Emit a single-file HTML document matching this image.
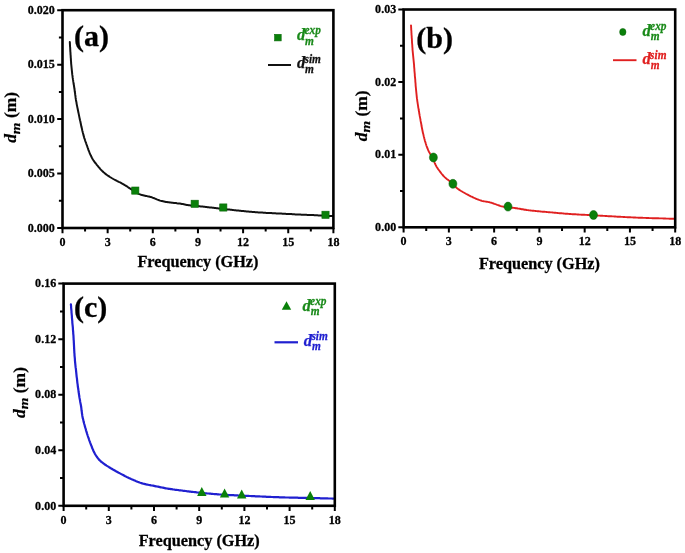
<!DOCTYPE html>
<html><head><meta charset="utf-8"><style>
html,body{margin:0;padding:0;background:#fff;}
svg{display:block;filter:blur(0.35px);font-family:"Liberation Serif","Times New Roman",serif;}
</style></head><body>
<svg width="685" height="553" viewBox="0 0 685 553">
<rect width="685" height="553" fill="#fff"/>
<path d="M69.8,42.0 L69.9,43.0 L69.9,44.0 L70.0,45.0 L70.0,46.0 L70.1,47.0 L70.2,48.0 L70.2,49.0 L70.3,50.0 L70.3,51.0 L70.4,52.0 L70.5,53.0 L70.5,54.0 L70.6,55.0 L70.7,56.0 L70.7,57.0 L70.8,58.0 L70.9,59.0 L70.9,60.0 L71.0,61.0 L71.1,62.0 L71.1,63.0 L71.2,64.0 L71.3,65.0 L71.4,66.0 L71.5,67.0 L71.6,68.0 L71.7,69.0 L71.8,70.0 L71.9,70.9 L72.0,71.9 L72.1,72.9 L72.2,73.9 L72.3,74.9 L72.5,75.9 L72.6,76.9 L72.7,77.9 L72.9,78.9 L73.0,79.9 L73.2,80.9 L73.3,81.9 L73.5,82.8 L73.6,83.8 L73.8,84.8 L74.0,85.8 L74.1,86.8 L74.3,87.8 L74.4,88.8 L74.6,89.8 L74.7,90.8 L74.8,91.8 L75.0,92.7 L75.1,93.7 L75.2,94.7 L75.4,95.7 L75.5,96.7 L75.6,97.7 L75.8,98.7 L75.9,99.7 L76.1,100.7 L76.3,101.7 L76.5,102.6 L76.6,103.6 L76.8,104.6 L77.0,105.6 L77.2,106.6 L77.4,107.6 L77.6,108.5 L77.8,109.5 L78.0,110.5 L78.2,111.5 L78.4,112.5 L78.6,113.4 L78.8,114.4 L79.0,115.4 L79.2,116.4 L79.4,117.4 L79.6,118.3 L79.8,119.3 L80.0,120.3 L80.3,121.3 L80.5,122.3 L80.7,123.2 L80.9,124.2 L81.1,125.2 L81.3,126.2 L81.5,127.1 L81.8,128.1 L82.0,129.1 L82.2,130.1 L82.4,131.0 L82.7,132.0 L82.9,133.0 L83.2,134.0 L83.4,134.9 L83.7,135.9 L84.0,136.9 L84.2,137.8 L84.6,138.8 L84.9,139.7 L85.2,140.7 L85.5,141.6 L85.9,142.5 L86.2,143.5 L86.5,144.4 L86.9,145.4 L87.2,146.3 L87.5,147.3 L87.9,148.2 L88.2,149.1 L88.5,150.1 L88.9,151.0 L89.3,152.0 L89.6,152.9 L90.0,153.8 L90.4,154.7 L90.8,155.6 L91.3,156.5 L91.7,157.4 L92.2,158.3 L92.7,159.2 L93.2,160.0 L93.8,160.8 L94.3,161.7 L94.9,162.5 L95.6,163.2 L96.2,164.0 L96.8,164.8 L97.5,165.6 L98.1,166.3 L98.7,167.1 L99.4,167.9 L100.0,168.7 L100.6,169.4 L101.3,170.1 L102.0,170.8 L102.8,171.5 L103.5,172.2 L104.3,172.8 L105.0,173.5 L105.8,174.1 L106.6,174.7 L107.4,175.3 L108.3,175.8 L109.1,176.4 L109.9,177.0 L110.8,177.5 L111.6,178.0 L112.5,178.5 L113.3,179.0 L114.2,179.5 L115.1,180.0 L116.0,180.4 L116.9,180.9 L117.8,181.3 L118.7,181.8 L119.6,182.2 L120.5,182.6 L121.4,183.1 L122.2,183.6 L123.1,184.1 L124.0,184.6 L124.8,185.1 L125.7,185.6 L126.5,186.2 L127.4,186.7 L128.2,187.3 L129.0,187.8 L129.9,188.4 L130.7,188.9 L131.5,189.5 L132.4,190.0 L133.2,190.6 L134.0,191.1 L134.9,191.7 L135.7,192.2 L136.6,192.7 L137.5,193.2 L138.3,193.7 L139.2,194.1 L140.2,194.4 L141.1,194.8 L142.0,195.1 L143.0,195.3 L144.0,195.5 L145.0,195.7 L145.9,195.9 L146.9,196.1 L147.9,196.4 L148.9,196.6 L149.8,196.8 L150.8,197.1 L151.8,197.3 L152.7,197.7 L153.6,198.0 L154.6,198.4 L155.5,198.8 L156.4,199.2 L157.3,199.6 L158.2,199.9 L159.2,200.3 L160.1,200.6 L161.1,200.9 L162.0,201.1 L163.0,201.3 L164.0,201.5 L165.0,201.7 L166.0,201.9 L167.0,202.0 L168.0,202.2 L168.9,202.3 L169.9,202.5 L170.9,202.6 L171.9,202.7 L172.9,202.8 L173.9,202.9 L174.9,203.0 L175.9,203.1 L176.9,203.3 L177.9,203.4 L178.9,203.5 L179.9,203.6 L180.9,203.8 L181.8,204.0 L182.8,204.1 L183.8,204.3 L184.8,204.5 L185.8,204.7 L186.8,204.9 L187.7,205.0 L188.7,205.2 L189.7,205.3 L190.7,205.5 L191.7,205.6 L192.7,205.7 L193.7,205.8 L194.7,205.8 L195.7,205.9 L196.7,206.0 L197.7,206.1 L198.7,206.2 L199.7,206.3 L200.7,206.4 L201.7,206.5 L202.7,206.6 L203.7,206.7 L204.7,206.8 L205.7,206.9 L206.7,207.0 L207.6,207.2 L208.6,207.3 L209.6,207.4 L210.6,207.5 L211.6,207.6 L212.6,207.7 L213.6,207.8 L214.6,208.0 L215.6,208.1 L216.6,208.2 L217.6,208.3 L218.6,208.4 L219.6,208.5 L220.6,208.6 L221.6,208.7 L222.6,208.8 L223.6,209.0 L224.6,209.1 L225.6,209.2 L226.5,209.3 L227.5,209.4 L228.5,209.5 L229.5,209.6 L230.5,209.7 L231.5,209.8 L232.5,209.9 L233.5,210.1 L234.5,210.2 L235.5,210.3 L236.5,210.4 L237.5,210.5 L238.5,210.6 L239.5,210.7 L240.5,210.8 L241.5,210.9 L242.5,211.0 L243.5,211.1 L244.5,211.2 L245.5,211.3 L246.5,211.4 L247.4,211.5 L248.4,211.6 L249.4,211.7 L250.4,211.7 L251.4,211.8 L252.4,211.9 L253.4,212.0 L254.4,212.1 L255.4,212.2 L256.4,212.2 L257.4,212.3 L258.4,212.4 L259.4,212.5 L260.4,212.5 L261.4,212.6 L262.4,212.6 L263.4,212.7 L264.4,212.8 L265.4,212.8 L266.4,212.9 L267.4,212.9 L268.4,213.0 L269.4,213.0 L270.4,213.1 L271.4,213.1 L272.4,213.2 L273.4,213.2 L274.4,213.3 L275.4,213.3 L276.4,213.4 L277.4,213.4 L278.4,213.5 L279.4,213.5 L280.4,213.6 L281.4,213.6 L282.4,213.7 L283.4,213.7 L284.4,213.8 L285.4,213.8 L286.4,213.9 L287.4,213.9 L288.4,214.0 L289.4,214.0 L290.4,214.1 L291.4,214.1 L292.4,214.2 L293.4,214.3 L294.4,214.3 L295.4,214.4 L296.4,214.4 L297.4,214.5 L298.4,214.5 L299.4,214.6 L300.4,214.6 L301.4,214.7 L302.4,214.7 L303.4,214.7 L304.4,214.8 L305.4,214.8 L306.4,214.8 L307.4,214.9 L308.4,214.9 L309.4,215.0 L310.4,215.0 L311.4,215.0 L312.4,215.1 L313.4,215.1 L314.4,215.2 L315.4,215.2 L316.4,215.3 L317.4,215.3 L318.4,215.4 L319.4,215.4 L320.4,215.4 L321.4,215.5 L322.4,215.5 L323.4,215.6 L324.4,215.6 L325.4,215.7 L326.4,215.7 L327.4,215.8 L328.4,215.8 L329.4,215.9 L330.4,215.9 L331.4,216.0 L332.4,216.0" fill="none" stroke="#111" stroke-width="2.0" stroke-linejoin="round" stroke-linecap="round"/>
<rect x="131.70" y="187.00" width="7.2" height="7.2" fill="#0a800a" stroke="#086808" stroke-width="0.6"/>
<rect x="191.10" y="200.20" width="7.2" height="7.2" fill="#0a800a" stroke="#086808" stroke-width="0.6"/>
<rect x="219.70" y="203.90" width="7.2" height="7.2" fill="#0a800a" stroke="#086808" stroke-width="0.6"/>
<rect x="321.90" y="211.20" width="7.2" height="7.2" fill="#0a800a" stroke="#086808" stroke-width="0.6"/>
<path d="M62.50,228.00 V233.30 M85.07,228.00 V231.60 M107.65,228.00 V233.30 M130.22,228.00 V231.60 M152.80,228.00 V233.30 M175.38,228.00 V231.60 M197.95,228.00 V233.30 M220.53,228.00 V231.60 M243.10,228.00 V233.30 M265.67,228.00 V231.60 M288.25,228.00 V233.30 M310.82,228.00 V231.60 M333.40,228.00 V233.30 M62.50,228.00 H57.20 M62.50,200.78 H58.90 M62.50,173.55 H57.20 M62.50,146.32 H58.90 M62.50,119.10 H57.20 M62.50,91.88 H58.90 M62.50,64.65 H57.20 M62.50,37.42 H58.90 M62.50,10.20 H57.20" stroke="#000" stroke-width="2" fill="none"/>
<rect x="62.5" y="10.2" width="270.90" height="217.80" fill="none" stroke="#000" stroke-width="2.6"/>
<text transform="translate(62.50,246.00) scale(0.9,1)" font-size="13.4" text-anchor="middle" font-weight="bold" font-style="normal" fill="#000" stroke="#000" stroke-width="0.3">0</text>
<text transform="translate(107.65,246.00) scale(0.9,1)" font-size="13.4" text-anchor="middle" font-weight="bold" font-style="normal" fill="#000" stroke="#000" stroke-width="0.3">3</text>
<text transform="translate(152.80,246.00) scale(0.9,1)" font-size="13.4" text-anchor="middle" font-weight="bold" font-style="normal" fill="#000" stroke="#000" stroke-width="0.3">6</text>
<text transform="translate(197.95,246.00) scale(0.9,1)" font-size="13.4" text-anchor="middle" font-weight="bold" font-style="normal" fill="#000" stroke="#000" stroke-width="0.3">9</text>
<text transform="translate(243.10,246.00) scale(0.9,1)" font-size="13.4" text-anchor="middle" font-weight="bold" font-style="normal" fill="#000" stroke="#000" stroke-width="0.3">12</text>
<text transform="translate(288.25,246.00) scale(0.9,1)" font-size="13.4" text-anchor="middle" font-weight="bold" font-style="normal" fill="#000" stroke="#000" stroke-width="0.3">15</text>
<text transform="translate(333.40,246.00) scale(0.9,1)" font-size="13.4" text-anchor="middle" font-weight="bold" font-style="normal" fill="#000" stroke="#000" stroke-width="0.3">18</text>
<text transform="translate(54.80,231.73) scale(0.9,1)" font-size="13.4" text-anchor="end" font-weight="bold" font-style="normal" fill="#000" stroke="#000" stroke-width="0.3">0.000</text>
<text transform="translate(54.80,177.28) scale(0.9,1)" font-size="13.4" text-anchor="end" font-weight="bold" font-style="normal" fill="#000" stroke="#000" stroke-width="0.3">0.005</text>
<text transform="translate(54.80,122.83) scale(0.9,1)" font-size="13.4" text-anchor="end" font-weight="bold" font-style="normal" fill="#000" stroke="#000" stroke-width="0.3">0.010</text>
<text transform="translate(54.80,68.38) scale(0.9,1)" font-size="13.4" text-anchor="end" font-weight="bold" font-style="normal" fill="#000" stroke="#000" stroke-width="0.3">0.015</text>
<text transform="translate(54.80,13.93) scale(0.9,1)" font-size="13.4" text-anchor="end" font-weight="bold" font-style="normal" fill="#000" stroke="#000" stroke-width="0.3">0.020</text>
<text transform="translate(197.95,267.30) scale(0.94,1)" font-size="17.3" text-anchor="middle" font-weight="bold" font-style="normal" fill="#000" stroke="#000" stroke-width="0.3">Frequency (GHz)</text>
<text transform="translate(16.30,117.40) rotate(-90) scale(1,0.9)" font-size="17.5" text-anchor="middle" font-weight="bold" stroke="#000" stroke-width="0.25"><tspan font-style="italic">d</tspan><tspan font-style="italic" font-size="15" dy="4">m</tspan><tspan dy="-4"> (m)</tspan></text>
<text transform="translate(74.00,46.00) scale(1.0,1)" font-size="30" text-anchor="start" font-weight="bold" font-style="normal" fill="#000" stroke="#000" stroke-width="0.3">(a)</text>
<rect x="274.60" y="34.30" width="6.6" height="6.6" fill="#0a800a" stroke="#086808" stroke-width="0.6"/>
<g fill="#1a8a1a" stroke="#1a8a1a" stroke-width="0.25" font-weight="bold" font-style="italic"><text transform="translate(296.90,40.10) scale(1.0,1)" font-size="16.5">d</text><text transform="translate(304.50,34.30) scale(0.95,1)" font-size="12">exp</text><text transform="translate(305.10,44.50) scale(0.95,1)" font-size="12">m</text></g>
<path d="M268,65 H291" stroke="#111" stroke-width="2.0"/>
<g fill="#111" stroke="#111" stroke-width="0.25" font-weight="bold" font-style="italic"><text transform="translate(296.90,68.30) scale(1.0,1)" font-size="16.5">d</text><text transform="translate(304.50,62.50) scale(0.95,1)" font-size="12">sim</text><text transform="translate(305.10,72.70) scale(0.95,1)" font-size="12">m</text></g>
<path d="M411.0,25.4 L411.1,26.4 L411.1,27.4 L411.2,28.4 L411.2,29.4 L411.3,30.4 L411.4,31.4 L411.4,32.4 L411.5,33.4 L411.5,34.4 L411.6,35.4 L411.7,36.4 L411.7,37.4 L411.8,38.4 L411.9,39.4 L411.9,40.4 L412.0,41.4 L412.0,42.4 L412.1,43.4 L412.2,44.4 L412.3,45.4 L412.3,46.4 L412.4,47.4 L412.5,48.4 L412.5,49.4 L412.6,50.4 L412.7,51.3 L412.8,52.3 L412.9,53.3 L413.0,54.3 L413.1,55.3 L413.2,56.3 L413.3,57.3 L413.4,58.3 L413.5,59.3 L413.6,60.3 L413.7,61.3 L413.8,62.3 L413.9,63.3 L414.0,64.3 L414.1,65.3 L414.1,66.3 L414.2,67.3 L414.3,68.3 L414.4,69.3 L414.4,70.3 L414.5,71.3 L414.6,72.3 L414.7,73.3 L414.8,74.3 L414.8,75.3 L414.9,76.3 L415.0,77.3 L415.1,78.2 L415.2,79.2 L415.3,80.2 L415.3,81.2 L415.4,82.2 L415.5,83.2 L415.6,84.2 L415.6,85.2 L415.7,86.2 L415.8,87.2 L415.9,88.2 L416.0,89.2 L416.1,90.2 L416.2,91.2 L416.3,92.2 L416.4,93.2 L416.5,94.2 L416.6,95.2 L416.7,96.2 L416.8,97.2 L416.9,98.2 L417.1,99.2 L417.2,100.1 L417.3,101.1 L417.5,102.1 L417.6,103.1 L417.8,104.1 L417.9,105.1 L418.1,106.1 L418.2,107.1 L418.4,108.1 L418.6,109.0 L418.7,110.0 L418.9,111.0 L419.1,112.0 L419.2,113.0 L419.4,114.0 L419.6,115.0 L419.7,115.9 L419.9,116.9 L420.1,117.9 L420.3,118.9 L420.5,119.9 L420.6,120.9 L420.8,121.9 L421.0,122.8 L421.2,123.8 L421.4,124.8 L421.5,125.8 L421.7,126.8 L421.9,127.7 L422.1,128.7 L422.3,129.7 L422.5,130.7 L422.7,131.7 L422.9,132.7 L423.1,133.6 L423.4,134.6 L423.6,135.6 L423.8,136.5 L424.1,137.5 L424.3,138.5 L424.6,139.5 L424.8,140.4 L425.1,141.4 L425.4,142.3 L425.7,143.3 L426.0,144.2 L426.3,145.2 L426.6,146.1 L427.0,147.1 L427.3,148.0 L427.7,148.9 L428.1,149.9 L428.5,150.8 L428.9,151.7 L429.4,152.5 L429.9,153.4 L430.4,154.2 L431.0,155.1 L431.5,155.9 L432.1,156.8 L432.6,157.6 L433.0,158.5 L433.4,159.4 L433.8,160.3 L434.2,161.2 L434.5,162.2 L434.8,163.1 L435.2,164.0 L435.6,164.9 L436.1,165.8 L436.5,166.7 L437.1,167.5 L437.6,168.4 L438.2,169.2 L438.8,170.0 L439.4,170.8 L440.0,171.6 L440.6,172.4 L441.2,173.2 L441.8,174.0 L442.4,174.7 L443.1,175.5 L443.7,176.2 L444.4,176.9 L445.2,177.6 L445.9,178.2 L446.7,178.9 L447.5,179.5 L448.3,180.1 L449.1,180.7 L449.9,181.3 L450.6,181.9 L451.4,182.6 L452.2,183.2 L452.9,183.9 L453.6,184.6 L454.3,185.3 L454.9,186.1 L455.6,186.8 L456.3,187.5 L457.0,188.2 L457.8,188.8 L458.6,189.4 L459.4,189.9 L460.3,190.5 L461.1,191.0 L462.0,191.5 L462.8,192.0 L463.7,192.5 L464.6,193.0 L465.5,193.5 L466.3,194.0 L467.2,194.4 L468.1,194.9 L469.0,195.4 L469.9,195.8 L470.8,196.3 L471.7,196.7 L472.6,197.1 L473.5,197.6 L474.4,198.0 L475.3,198.4 L476.2,198.8 L477.1,199.2 L478.1,199.5 L479.0,199.9 L479.9,200.2 L480.9,200.5 L481.8,200.8 L482.8,201.1 L483.8,201.3 L484.8,201.4 L485.7,201.6 L486.7,201.7 L487.7,201.9 L488.7,202.1 L489.7,202.3 L490.6,202.6 L491.6,202.8 L492.5,203.1 L493.5,203.5 L494.4,203.8 L495.4,204.1 L496.3,204.5 L497.2,204.9 L498.2,205.2 L499.1,205.5 L500.1,205.9 L501.0,206.2 L502.0,206.4 L502.9,206.6 L503.9,206.8 L504.9,207.0 L505.9,207.1 L506.9,207.2 L507.9,207.3 L508.9,207.4 L509.9,207.5 L510.9,207.6 L511.9,207.7 L512.9,207.8 L513.8,207.9 L514.8,208.0 L515.8,208.2 L516.8,208.3 L517.8,208.5 L518.8,208.6 L519.8,208.8 L520.8,209.0 L521.7,209.2 L522.7,209.3 L523.7,209.5 L524.7,209.7 L525.7,209.8 L526.7,210.0 L527.7,210.1 L528.7,210.3 L529.6,210.4 L530.6,210.5 L531.6,210.6 L532.6,210.7 L533.6,210.8 L534.6,210.9 L535.6,211.0 L536.6,211.1 L537.6,211.2 L538.6,211.3 L539.6,211.4 L540.6,211.5 L541.6,211.6 L542.6,211.7 L543.6,211.7 L544.6,211.8 L545.6,211.9 L546.6,212.0 L547.6,212.1 L548.6,212.2 L549.6,212.3 L550.6,212.4 L551.6,212.4 L552.6,212.5 L553.5,212.6 L554.5,212.7 L555.5,212.8 L556.5,212.9 L557.5,213.0 L558.5,213.1 L559.5,213.2 L560.5,213.2 L561.5,213.3 L562.5,213.4 L563.5,213.5 L564.5,213.6 L565.5,213.7 L566.5,213.7 L567.5,213.8 L568.5,213.9 L569.5,214.0 L570.5,214.0 L571.5,214.1 L572.5,214.2 L573.5,214.2 L574.5,214.3 L575.5,214.3 L576.5,214.4 L577.5,214.5 L578.5,214.5 L579.5,214.6 L580.5,214.6 L581.5,214.7 L582.5,214.7 L583.5,214.8 L584.5,214.8 L585.5,214.9 L586.5,214.9 L587.5,215.0 L588.5,215.0 L589.5,215.1 L590.5,215.1 L591.5,215.2 L592.5,215.2 L593.5,215.3 L594.5,215.4 L595.5,215.4 L596.5,215.5 L597.5,215.5 L598.5,215.6 L599.5,215.6 L600.5,215.7 L601.5,215.7 L602.4,215.8 L603.4,215.9 L604.4,215.9 L605.4,216.0 L606.4,216.0 L607.4,216.1 L608.4,216.2 L609.4,216.2 L610.4,216.3 L611.4,216.3 L612.4,216.4 L613.4,216.4 L614.4,216.5 L615.4,216.5 L616.4,216.6 L617.4,216.7 L618.4,216.7 L619.4,216.8 L620.4,216.8 L621.4,216.9 L622.4,216.9 L623.4,217.0 L624.4,217.0 L625.4,217.1 L626.4,217.1 L627.4,217.2 L628.4,217.2 L629.4,217.3 L630.4,217.3 L631.4,217.4 L632.4,217.4 L633.4,217.5 L634.4,217.5 L635.4,217.5 L636.4,217.6 L637.4,217.6 L638.4,217.7 L639.4,217.7 L640.4,217.7 L641.4,217.8 L642.4,217.8 L643.4,217.9 L644.4,217.9 L645.4,217.9 L646.4,218.0 L647.4,218.0 L648.4,218.0 L649.4,218.1 L650.4,218.1 L651.4,218.1 L652.4,218.2 L653.4,218.2 L654.4,218.2 L655.4,218.2 L656.4,218.3 L657.4,218.3 L658.4,218.3 L659.4,218.4 L660.4,218.4 L661.4,218.4 L662.4,218.4 L663.4,218.5 L664.4,218.5 L665.4,218.5 L666.4,218.6 L667.4,218.6 L668.4,218.6 L669.4,218.7 L670.4,218.7 L671.4,218.7 L672.4,218.7 L673.4,218.8 L674.4,218.8" fill="none" stroke="#e02020" stroke-width="1.9" stroke-linejoin="round" stroke-linecap="round"/>
<ellipse cx="433.40" cy="157.50" rx="4.0" ry="4.5" fill="#0a800a" stroke="#066006" stroke-width="0.5"/>
<ellipse cx="452.90" cy="183.80" rx="4.0" ry="4.5" fill="#0a800a" stroke="#066006" stroke-width="0.5"/>
<ellipse cx="508.00" cy="206.60" rx="4.0" ry="4.5" fill="#0a800a" stroke="#066006" stroke-width="0.5"/>
<ellipse cx="593.50" cy="215.00" rx="4.0" ry="4.5" fill="#0a800a" stroke="#066006" stroke-width="0.5"/>
<path d="M403.60,227.30 V232.60 M426.23,227.30 V230.90 M448.87,227.30 V232.60 M471.50,227.30 V230.90 M494.13,227.30 V232.60 M516.77,227.30 V230.90 M539.40,227.30 V232.60 M562.03,227.30 V230.90 M584.67,227.30 V232.60 M607.30,227.30 V230.90 M629.93,227.30 V232.60 M652.57,227.30 V230.90 M675.20,227.30 V232.60 M403.60,227.30 H398.30 M403.60,191.00 H400.00 M403.60,154.70 H398.30 M403.60,118.40 H400.00 M403.60,82.10 H398.30 M403.60,45.80 H400.00 M403.60,9.50 H398.30" stroke="#000" stroke-width="2" fill="none"/>
<rect x="403.6" y="9.5" width="271.60" height="217.80" fill="none" stroke="#000" stroke-width="2.6"/>
<text transform="translate(403.60,245.30) scale(0.9,1)" font-size="13.4" text-anchor="middle" font-weight="bold" font-style="normal" fill="#000" stroke="#000" stroke-width="0.3">0</text>
<text transform="translate(448.87,245.30) scale(0.9,1)" font-size="13.4" text-anchor="middle" font-weight="bold" font-style="normal" fill="#000" stroke="#000" stroke-width="0.3">3</text>
<text transform="translate(494.13,245.30) scale(0.9,1)" font-size="13.4" text-anchor="middle" font-weight="bold" font-style="normal" fill="#000" stroke="#000" stroke-width="0.3">6</text>
<text transform="translate(539.40,245.30) scale(0.9,1)" font-size="13.4" text-anchor="middle" font-weight="bold" font-style="normal" fill="#000" stroke="#000" stroke-width="0.3">9</text>
<text transform="translate(584.67,245.30) scale(0.9,1)" font-size="13.4" text-anchor="middle" font-weight="bold" font-style="normal" fill="#000" stroke="#000" stroke-width="0.3">12</text>
<text transform="translate(629.93,245.30) scale(0.9,1)" font-size="13.4" text-anchor="middle" font-weight="bold" font-style="normal" fill="#000" stroke="#000" stroke-width="0.3">15</text>
<text transform="translate(675.20,245.30) scale(0.9,1)" font-size="13.4" text-anchor="middle" font-weight="bold" font-style="normal" fill="#000" stroke="#000" stroke-width="0.3">18</text>
<text transform="translate(396.20,231.03) scale(0.9,1)" font-size="13.4" text-anchor="end" font-weight="bold" font-style="normal" fill="#000" stroke="#000" stroke-width="0.3">0.00</text>
<text transform="translate(396.20,158.43) scale(0.9,1)" font-size="13.4" text-anchor="end" font-weight="bold" font-style="normal" fill="#000" stroke="#000" stroke-width="0.3">0.01</text>
<text transform="translate(396.20,85.83) scale(0.9,1)" font-size="13.4" text-anchor="end" font-weight="bold" font-style="normal" fill="#000" stroke="#000" stroke-width="0.3">0.02</text>
<text transform="translate(396.20,13.23) scale(0.9,1)" font-size="13.4" text-anchor="end" font-weight="bold" font-style="normal" fill="#000" stroke="#000" stroke-width="0.3">0.03</text>
<text transform="translate(539.40,268.50) scale(0.94,1)" font-size="17.3" text-anchor="middle" font-weight="bold" font-style="normal" fill="#000" stroke="#000" stroke-width="0.3">Frequency (GHz)</text>
<text transform="translate(366.80,115.80) rotate(-90) scale(1,0.9)" font-size="17.5" text-anchor="middle" font-weight="bold" stroke="#000" stroke-width="0.25"><tspan font-style="italic">d</tspan><tspan font-style="italic" font-size="15" dy="4">m</tspan><tspan dy="-4"> (m)</tspan></text>
<text transform="translate(416.30,47.50) scale(1.0,1)" font-size="30" text-anchor="start" font-weight="bold" font-style="normal" fill="#000" stroke="#000" stroke-width="0.3">(b)</text>
<ellipse cx="622.80" cy="32.00" rx="3.2" ry="3.6" fill="#0a800a" stroke="#066006" stroke-width="0.5"/>
<g fill="#1a8a1a" stroke="#1a8a1a" stroke-width="0.25" font-weight="bold" font-style="italic"><text transform="translate(642.50,35.90) scale(1.0,1)" font-size="16.5">d</text><text transform="translate(650.10,30.10) scale(0.95,1)" font-size="12">exp</text><text transform="translate(650.70,40.30) scale(0.95,1)" font-size="12">m</text></g>
<path d="M613,60.2 H636.5" stroke="#e02020" stroke-width="1.9"/>
<g fill="#e02020" stroke="#e02020" stroke-width="0.25" font-weight="bold" font-style="italic"><text transform="translate(642.50,64.40) scale(1.0,1)" font-size="16.5">d</text><text transform="translate(650.10,58.60) scale(0.95,1)" font-size="12">sim</text><text transform="translate(650.70,68.80) scale(0.95,1)" font-size="12">m</text></g>
<path d="M70.9,304.3 L71.0,305.3 L71.1,306.3 L71.1,307.3 L71.2,308.3 L71.3,309.3 L71.4,310.3 L71.5,311.3 L71.5,312.3 L71.6,313.3 L71.7,314.3 L71.8,315.3 L71.9,316.3 L71.9,317.3 L72.0,318.3 L72.1,319.3 L72.2,320.3 L72.3,321.3 L72.3,322.3 L72.4,323.3 L72.5,324.3 L72.6,325.2 L72.7,326.2 L72.8,327.2 L72.9,328.2 L72.9,329.2 L73.0,330.2 L73.1,331.2 L73.2,332.2 L73.2,333.2 L73.3,334.2 L73.4,335.2 L73.5,336.2 L73.5,337.2 L73.6,338.2 L73.6,339.2 L73.7,340.2 L73.8,341.2 L73.8,342.2 L73.9,343.2 L73.9,344.2 L74.0,345.2 L74.0,346.2 L74.1,347.2 L74.1,348.2 L74.2,349.2 L74.2,350.2 L74.3,351.2 L74.3,352.2 L74.4,353.2 L74.5,354.2 L74.5,355.2 L74.6,356.2 L74.7,357.2 L74.8,358.2 L74.9,359.2 L74.9,360.2 L75.0,361.2 L75.1,362.2 L75.2,363.2 L75.3,364.2 L75.4,365.2 L75.5,366.2 L75.6,367.2 L75.8,368.2 L75.9,369.2 L76.0,370.2 L76.1,371.1 L76.2,372.1 L76.3,373.1 L76.4,374.1 L76.5,375.1 L76.6,376.1 L76.7,377.1 L76.9,378.1 L77.0,379.1 L77.1,380.1 L77.2,381.1 L77.3,382.1 L77.4,383.1 L77.6,384.1 L77.7,385.1 L77.8,386.1 L77.9,387.0 L78.1,388.0 L78.2,389.0 L78.4,390.0 L78.5,391.0 L78.6,392.0 L78.8,393.0 L78.9,394.0 L79.1,395.0 L79.2,396.0 L79.4,397.0 L79.5,397.9 L79.7,398.9 L79.9,399.9 L80.1,400.9 L80.2,401.9 L80.4,402.9 L80.6,403.8 L80.8,404.8 L81.0,405.8 L81.1,406.8 L81.3,407.8 L81.4,408.8 L81.5,409.8 L81.6,410.8 L81.8,411.8 L81.9,412.8 L82.0,413.8 L82.2,414.7 L82.3,415.7 L82.5,416.7 L82.7,417.7 L82.9,418.7 L83.2,419.6 L83.4,420.6 L83.6,421.6 L83.9,422.6 L84.1,423.5 L84.4,424.5 L84.7,425.5 L84.9,426.4 L85.2,427.4 L85.5,428.3 L85.8,429.3 L86.0,430.3 L86.3,431.2 L86.6,432.2 L86.9,433.1 L87.2,434.1 L87.5,435.0 L87.8,436.0 L88.1,436.9 L88.5,437.9 L88.8,438.8 L89.1,439.8 L89.4,440.7 L89.8,441.7 L90.1,442.6 L90.5,443.5 L90.8,444.5 L91.2,445.4 L91.6,446.3 L91.9,447.3 L92.3,448.2 L92.7,449.1 L93.1,450.0 L93.5,451.0 L93.9,451.9 L94.4,452.8 L94.8,453.6 L95.3,454.5 L95.9,455.4 L96.4,456.2 L97.0,457.0 L97.6,457.8 L98.2,458.6 L98.8,459.4 L99.5,460.1 L100.2,460.8 L100.9,461.5 L101.7,462.1 L102.5,462.7 L103.3,463.3 L104.1,463.9 L104.9,464.5 L105.7,465.0 L106.6,465.6 L107.4,466.1 L108.3,466.6 L109.1,467.2 L110.0,467.7 L110.8,468.2 L111.7,468.7 L112.5,469.2 L113.4,469.7 L114.3,470.2 L115.2,470.7 L116.0,471.2 L116.9,471.7 L117.8,472.2 L118.7,472.7 L119.5,473.1 L120.4,473.6 L121.3,474.1 L122.2,474.6 L123.1,475.0 L124.0,475.5 L124.8,476.0 L125.7,476.4 L126.6,476.9 L127.5,477.3 L128.4,477.8 L129.3,478.2 L130.2,478.6 L131.1,479.0 L132.1,479.4 L133.0,479.8 L133.9,480.2 L134.8,480.6 L135.7,481.0 L136.7,481.4 L137.6,481.8 L138.5,482.1 L139.5,482.5 L140.4,482.8 L141.4,483.1 L142.3,483.4 L143.3,483.7 L144.2,483.9 L145.2,484.1 L146.2,484.4 L147.2,484.6 L148.1,484.8 L149.1,485.0 L150.1,485.2 L151.1,485.4 L152.1,485.5 L153.1,485.7 L154.0,485.9 L155.0,486.1 L156.0,486.3 L157.0,486.5 L158.0,486.7 L158.9,486.9 L159.9,487.1 L160.9,487.3 L161.9,487.5 L162.9,487.7 L163.8,487.9 L164.8,488.1 L165.8,488.3 L166.8,488.5 L167.8,488.6 L168.8,488.8 L169.8,488.9 L170.8,489.1 L171.7,489.2 L172.7,489.4 L173.7,489.5 L174.7,489.7 L175.7,489.8 L176.7,489.9 L177.7,490.0 L178.7,490.2 L179.7,490.3 L180.7,490.4 L181.7,490.5 L182.7,490.7 L183.7,490.8 L184.6,490.9 L185.6,491.0 L186.6,491.2 L187.6,491.3 L188.6,491.4 L189.6,491.6 L190.6,491.7 L191.6,491.8 L192.6,491.9 L193.6,492.0 L194.6,492.1 L195.6,492.2 L196.6,492.4 L197.6,492.5 L198.6,492.6 L199.6,492.7 L200.5,492.8 L201.5,492.9 L202.5,493.0 L203.5,493.1 L204.5,493.2 L205.5,493.3 L206.5,493.4 L207.5,493.5 L208.5,493.5 L209.5,493.6 L210.5,493.7 L211.5,493.8 L212.5,493.9 L213.5,494.0 L214.5,494.1 L215.5,494.2 L216.5,494.2 L217.5,494.3 L218.5,494.4 L219.5,494.5 L220.5,494.5 L221.5,494.6 L222.5,494.7 L223.5,494.7 L224.5,494.8 L225.5,494.8 L226.5,494.9 L227.5,494.9 L228.5,495.0 L229.5,495.1 L230.5,495.1 L231.5,495.2 L232.5,495.2 L233.5,495.2 L234.5,495.3 L235.5,495.3 L236.5,495.4 L237.5,495.4 L238.5,495.5 L239.5,495.5 L240.5,495.6 L241.5,495.6 L242.5,495.7 L243.5,495.7 L244.5,495.8 L245.5,495.8 L246.5,495.8 L247.5,495.9 L248.5,495.9 L249.5,496.0 L250.5,496.0 L251.5,496.1 L252.5,496.1 L253.5,496.2 L254.5,496.2 L255.5,496.3 L256.5,496.3 L257.5,496.4 L258.5,496.4 L259.5,496.4 L260.5,496.5 L261.5,496.5 L262.5,496.6 L263.5,496.6 L264.5,496.7 L265.5,496.7 L266.5,496.8 L267.5,496.8 L268.5,496.9 L269.5,496.9 L270.5,496.9 L271.5,497.0 L272.5,497.0 L273.5,497.1 L274.5,497.1 L275.5,497.1 L276.5,497.2 L277.5,497.2 L278.5,497.2 L279.5,497.3 L280.5,497.3 L281.5,497.3 L282.5,497.4 L283.5,497.4 L284.5,497.4 L285.5,497.5 L286.5,497.5 L287.5,497.5 L288.5,497.5 L289.5,497.6 L290.5,497.6 L291.5,497.6 L292.5,497.6 L293.5,497.7 L294.5,497.7 L295.5,497.7 L296.5,497.7 L297.5,497.7 L298.5,497.8 L299.5,497.8 L300.5,497.8 L301.5,497.8 L302.5,497.8 L303.5,497.9 L304.5,497.9 L305.5,497.9 L306.5,497.9 L307.5,497.9 L308.5,498.0 L309.5,498.0 L310.5,498.0 L311.5,498.0 L312.5,498.1 L313.5,498.1 L314.5,498.1 L315.5,498.1 L316.5,498.2 L317.5,498.2 L318.5,498.2 L319.5,498.2 L320.5,498.3 L321.5,498.3 L322.5,498.3 L323.5,498.3 L324.5,498.4 L325.5,498.4 L326.5,498.4 L327.5,498.4 L328.5,498.5 L329.5,498.5 L330.5,498.5 L331.5,498.5 L332.5,498.6 L333.5,498.6" fill="none" stroke="#2020d0" stroke-width="2.2" stroke-linejoin="round" stroke-linecap="round"/>
<path d="M201.80,486.90 L206.50,495.90 L197.10,495.90 Z" fill="#0a800a"/>
<path d="M224.60,488.60 L229.30,497.60 L219.90,497.60 Z" fill="#0a800a"/>
<path d="M241.70,489.50 L246.40,498.50 L237.00,498.50 Z" fill="#0a800a"/>
<path d="M310.20,490.90 L314.90,499.90 L305.50,499.90 Z" fill="#0a800a"/>
<path d="M63.60,505.80 V511.10 M86.20,505.80 V509.40 M108.80,505.80 V511.10 M131.40,505.80 V509.40 M154.00,505.80 V511.10 M176.60,505.80 V509.40 M199.20,505.80 V511.10 M221.80,505.80 V509.40 M244.40,505.80 V511.10 M267.00,505.80 V509.40 M289.60,505.80 V511.10 M312.20,505.80 V509.40 M334.80,505.80 V511.10 M63.60,505.80 H58.30 M63.60,478.03 H60.00 M63.60,450.25 H58.30 M63.60,422.48 H60.00 M63.60,394.70 H58.30 M63.60,366.93 H60.00 M63.60,339.15 H58.30 M63.60,311.38 H60.00 M63.60,283.60 H58.30" stroke="#000" stroke-width="2" fill="none"/>
<rect x="63.6" y="283.6" width="271.20" height="222.20" fill="none" stroke="#000" stroke-width="2.6"/>
<text transform="translate(63.60,523.50) scale(0.9,1)" font-size="13.4" text-anchor="middle" font-weight="bold" font-style="normal" fill="#000" stroke="#000" stroke-width="0.3">0</text>
<text transform="translate(108.80,523.50) scale(0.9,1)" font-size="13.4" text-anchor="middle" font-weight="bold" font-style="normal" fill="#000" stroke="#000" stroke-width="0.3">3</text>
<text transform="translate(154.00,523.50) scale(0.9,1)" font-size="13.4" text-anchor="middle" font-weight="bold" font-style="normal" fill="#000" stroke="#000" stroke-width="0.3">6</text>
<text transform="translate(199.20,523.50) scale(0.9,1)" font-size="13.4" text-anchor="middle" font-weight="bold" font-style="normal" fill="#000" stroke="#000" stroke-width="0.3">9</text>
<text transform="translate(244.40,523.50) scale(0.9,1)" font-size="13.4" text-anchor="middle" font-weight="bold" font-style="normal" fill="#000" stroke="#000" stroke-width="0.3">12</text>
<text transform="translate(289.60,523.50) scale(0.9,1)" font-size="13.4" text-anchor="middle" font-weight="bold" font-style="normal" fill="#000" stroke="#000" stroke-width="0.3">15</text>
<text transform="translate(334.80,523.50) scale(0.9,1)" font-size="13.4" text-anchor="middle" font-weight="bold" font-style="normal" fill="#000" stroke="#000" stroke-width="0.3">18</text>
<text transform="translate(56.20,509.53) scale(0.9,1)" font-size="13.4" text-anchor="end" font-weight="bold" font-style="normal" fill="#000" stroke="#000" stroke-width="0.3">0.00</text>
<text transform="translate(56.20,453.98) scale(0.9,1)" font-size="13.4" text-anchor="end" font-weight="bold" font-style="normal" fill="#000" stroke="#000" stroke-width="0.3">0.04</text>
<text transform="translate(56.20,398.43) scale(0.9,1)" font-size="13.4" text-anchor="end" font-weight="bold" font-style="normal" fill="#000" stroke="#000" stroke-width="0.3">0.08</text>
<text transform="translate(56.20,342.88) scale(0.9,1)" font-size="13.4" text-anchor="end" font-weight="bold" font-style="normal" fill="#000" stroke="#000" stroke-width="0.3">0.12</text>
<text transform="translate(56.20,287.33) scale(0.9,1)" font-size="13.4" text-anchor="end" font-weight="bold" font-style="normal" fill="#000" stroke="#000" stroke-width="0.3">0.16</text>
<text transform="translate(199.20,545.50) scale(0.94,1)" font-size="17.3" text-anchor="middle" font-weight="bold" font-style="normal" fill="#000" stroke="#000" stroke-width="0.3">Frequency (GHz)</text>
<text transform="translate(24.60,392.50) rotate(-90) scale(1,0.9)" font-size="17.5" text-anchor="middle" font-weight="bold" stroke="#000" stroke-width="0.25"><tspan font-style="italic">d</tspan><tspan font-style="italic" font-size="15" dy="4">m</tspan><tspan dy="-4"> (m)</tspan></text>
<text transform="translate(74.00,317.40) scale(1.0,1)" font-size="30" text-anchor="start" font-weight="bold" font-style="normal" fill="#000" stroke="#000" stroke-width="0.3">(c)</text>
<path d="M286.50,301.20 L291.20,309.70 L281.80,309.70 Z" fill="#0a800a"/>
<g fill="#1a8a1a" stroke="#1a8a1a" stroke-width="0.25" font-weight="bold" font-style="italic"><text transform="translate(302.50,310.50) scale(1.0,1)" font-size="16.5">d</text><text transform="translate(310.10,304.70) scale(0.95,1)" font-size="12">exp</text><text transform="translate(310.70,314.90) scale(0.95,1)" font-size="12">m</text></g>
<path d="M274.5,342.3 H298" stroke="#2020d0" stroke-width="2.2"/>
<g fill="#2020d0" stroke="#2020d0" stroke-width="0.25" font-weight="bold" font-style="italic"><text transform="translate(303.80,345.90) scale(1.0,1)" font-size="16.5">d</text><text transform="translate(311.40,340.10) scale(0.95,1)" font-size="12">sim</text><text transform="translate(312.00,350.30) scale(0.95,1)" font-size="12">m</text></g>
</svg>
</body></html>
